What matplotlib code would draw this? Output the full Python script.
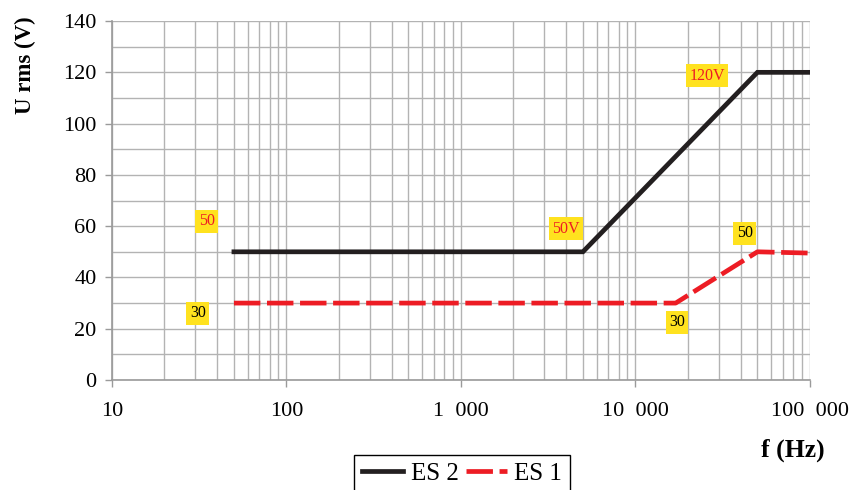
import matplotlib.pyplot as plt
from matplotlib.ticker import FixedLocator, LogLocator, MultipleLocator, NullFormatter

plt.rcParams['font.family'] = ['Liberation Serif', 'DejaVu Serif']

# limit curves
freq_es2 = [50, 5000, 50000, 100000]
volt_es2 = [50, 50, 120, 120]
freq_es1 = [50, 17000, 50000, 100000]
volt_es1 = [30, 30, 50, 49.5]

x_ticks = [10, 100, 1000, 10000, 100000]
x_labels = ['10', '100', '1  000', '10  000', '100  000']

# value tags: text, x, y, text colour
tags = [
    ('50', 35, 62, '#ED1C24'),
    ('30', 31, 26, 'black'),
    ('50V', 4000, 59, '#ED1C24'),
    ('120V', 25700, 118.6, '#ED1C24'),
    ('50', 42400, 57.3, 'black'),
    ('30', 17300, 22.6, 'black'),
]

fig = plt.figure(figsize=(8.58, 4.9), dpi=100)
ax = fig.add_axes([0.1305, 0.2245, 0.8135, 0.7325])

l2, = ax.plot(freq_es2, volt_es2, color='#231F20', lw=3.4, solid_joinstyle='miter', zorder=3)
l1, = ax.plot(freq_es1, volt_es1, color='#ED1C24', lw=3.4, dashes=(5.6, 1.4), zorder=3)

ax.set_xscale('log')
ax.set_xlim(10, 100000)
ax.set_ylim(0, 140)

ax.xaxis.set_major_locator(FixedLocator(x_ticks))
ax.set_xticklabels(x_labels)
ax.xaxis.set_minor_locator(LogLocator(base=10, subs=range(2, 10)))
ax.xaxis.set_minor_formatter(NullFormatter())
ax.yaxis.set_major_locator(MultipleLocator(20))
ax.yaxis.set_minor_locator(MultipleLocator(10))

grid_col = '#B3B3B3'
ax.grid(True, which='both', color=grid_col, lw=1.0)
ax.set_axisbelow(True)

for side in ['top', 'right']:
    ax.spines[side].set_visible(False)
for side in ['left', 'bottom']:
    ax.spines[side].set_color('#9A9A9A')
    ax.spines[side].set_linewidth(1.2)

ax.tick_params(which='major', length=5, width=1, color='#9A9A9A', labelsize=16, pad=11)
ax.tick_params(axis='y', pad=6)
ax.tick_params(which='minor', length=0)

for text, x, y, col in tags:
    ax.text(x, y, text, color=col, fontsize=11.5, ha='center', va='center',
            bbox=dict(boxstyle='square,pad=0.22', fc='#FFE21F', ec='none'), zorder=4)

fig.text(25 / 858, 1 - 65 / 490, 'U rms (V)', rotation=90, fontsize=16.5,
         fontweight='bold', ha='center', va='center')
fig.text(793 / 858, 1 - 450 / 490, 'f (Hz)', fontsize=18.5, fontweight='bold',
         ha='center', va='center')

leg = fig.legend([l2, l1], ['ES 2', 'ES 1'], ncol=2, loc='upper center',
                 bbox_to_anchor=(462 / 858, 1 - 455 / 490), fontsize=18,
                 frameon=True, fancybox=False, edgecolor='black', framealpha=1,
                 handlelength=1.65, handletextpad=0.3, columnspacing=0.28,
                 borderpad=0.3, borderaxespad=0)
leg.get_frame().set_linewidth(1.0)

fig.savefig('out.png', dpi=100)
